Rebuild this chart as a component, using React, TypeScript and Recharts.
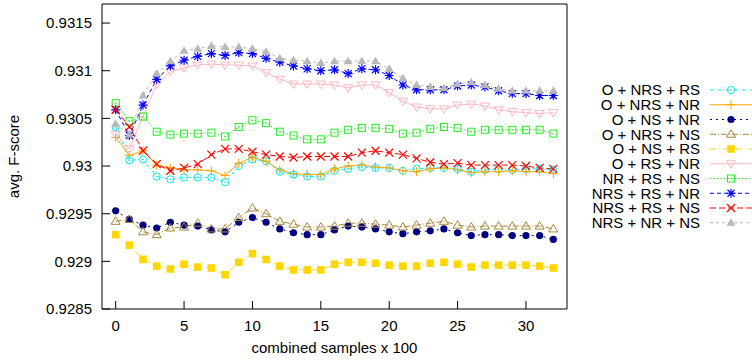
import { LineChart, Line, XAxis, YAxis } from "recharts"

// x positions (combined samples x 100)
const samples = [0, 1, 2, 3, 4, 5, 6, 7, 8, 9, 10, 11, 12, 13, 14, 15, 16, 17, 18, 19, 20, 21, 22, 23, 24, 25, 26, 27, 28, 29, 30, 31, 32]

const xTicks = [0, 5, 10, 15, 20, 25, 30]
const yTicks = [0.9285, 0.929, 0.9295, 0.93, 0.9305, 0.931, 0.9315]

// series values
const oNrsRs = [0.93041, 0.93006, 0.93007, 0.92989, 0.92986, 0.92988, 0.92988, 0.92988, 0.92983, 0.93, 0.93007, 0.93005, 0.92994, 0.92991, 0.92989, 0.92989, 0.92995, 0.92997, 0.92999, 0.92998, 0.92998, 0.92995, 0.92997, 0.92998, 0.92998, 0.92997, 0.92994, 0.92996, 0.92997, 0.92996, 0.92997, 0.92997, 0.92996]
const oNrsNr = [0.9303, 0.93011, 0.93016, 0.93001, 0.92998, 0.92996, 0.92996, 0.92995, 0.9299, 0.93003, 0.93009, 0.93005, 0.92996, 0.92992, 0.92991, 0.92991, 0.92997, 0.93, 0.93001, 0.92999, 0.92998, 0.92995, 0.92994, 0.92997, 0.92998, 0.92996, 0.92993, 0.92994, 0.92994, 0.92995, 0.92994, 0.92994, 0.92992]
const oNsNr = [0.92953, 0.92944, 0.92938, 0.92935, 0.92941, 0.92938, 0.92937, 0.92933, 0.92931, 0.92941, 0.92946, 0.92941, 0.92934, 0.9293, 0.92928, 0.92928, 0.92933, 0.92937, 0.92936, 0.92934, 0.92931, 0.92929, 0.92931, 0.92932, 0.92934, 0.9293, 0.92927, 0.92928, 0.92928, 0.92927, 0.92927, 0.92927, 0.92923]
const oNrsNs = [0.92942, 0.92944, 0.92931, 0.92928, 0.92935, 0.92936, 0.9294, 0.92934, 0.92934, 0.92946, 0.92956, 0.9295, 0.92942, 0.92939, 0.92936, 0.92936, 0.92937, 0.9294, 0.9294, 0.92939, 0.92938, 0.92936, 0.92938, 0.9294, 0.92942, 0.92938, 0.92936, 0.92937, 0.92937, 0.92937, 0.92937, 0.92937, 0.92934]
const oNsRs = [0.92928, 0.92917, 0.92902, 0.92895, 0.92892, 0.92897, 0.92894, 0.92893, 0.92886, 0.92899, 0.92908, 0.92902, 0.92895, 0.92891, 0.92891, 0.92891, 0.92897, 0.92899, 0.92899, 0.92898, 0.92896, 0.92895, 0.92895, 0.92898, 0.92899, 0.92897, 0.92894, 0.92896, 0.92896, 0.92896, 0.92896, 0.92895, 0.92893]
const oRsNr = [0.93033, 0.93018, 0.93052, 0.93086, 0.93099, 0.93103, 0.93106, 0.93107, 0.93106, 0.93106, 0.93105, 0.93098, 0.93091, 0.93086, 0.93086, 0.93086, 0.93085, 0.93082, 0.93085, 0.93085, 0.93077, 0.93068, 0.93062, 0.9306, 0.9306, 0.93064, 0.93065, 0.93063, 0.93059, 0.93057, 0.93056, 0.93055, 0.93056]
const nrRsNs = [0.93066, 0.93047, 0.93052, 0.93036, 0.93033, 0.93034, 0.93034, 0.93035, 0.93031, 0.93041, 0.93048, 0.93045, 0.93036, 0.93032, 0.93028, 0.93028, 0.93035, 0.93038, 0.9304, 0.9304, 0.93039, 0.93034, 0.93035, 0.93039, 0.93041, 0.9304, 0.93036, 0.93038, 0.93038, 0.93038, 0.93038, 0.93038, 0.93034]
const nrsRsNr = [0.93059, 0.93032, 0.93064, 0.93091, 0.93105, 0.93111, 0.93115, 0.93118, 0.93116, 0.93119, 0.93118, 0.93113, 0.93109, 0.93105, 0.93102, 0.931, 0.93101, 0.93097, 0.93102, 0.93101, 0.93095, 0.93085, 0.9308, 0.9308, 0.9308, 0.93084, 0.93085, 0.93083, 0.93079, 0.93076, 0.93076, 0.93074, 0.93074]
const nrsRsNs = [0.93059, 0.93041, 0.93016, 0.93002, 0.92995, 0.92998, 0.93002, 0.93012, 0.93018, 0.93018, 0.93015, 0.93012, 0.9301, 0.93009, 0.9301, 0.9301, 0.9301, 0.9301, 0.93014, 0.93016, 0.93014, 0.93012, 0.93008, 0.93004, 0.93002, 0.93003, 0.93001, 0.93001, 0.93001, 0.93001, 0.93, 0.92998, 0.92997]
const nrsNrNs = [0.93044, 0.93033, 0.93074, 0.93097, 0.9311, 0.93121, 0.93123, 0.93126, 0.93125, 0.93125, 0.93123, 0.9312, 0.93113, 0.93111, 0.9311, 0.93108, 0.9311, 0.9311, 0.9311, 0.9311, 0.93102, 0.93092, 0.93085, 0.93083, 0.93082, 0.93086, 0.93088, 0.93085, 0.93081, 0.93079, 0.93079, 0.93079, 0.93079]

const seriesNames = ["O + NRS + RS", "O + NRS + NR", "O + NS + NR", "O + NRS + NS", "O + NS + RS", "O + RS + NR", "NR + RS + NS", "NRS + RS + NR", "NRS + RS + NS", "NRS + NR + NS"]
const seriesValues = [oNrsRs, oNrsNr, oNsNr, oNrsNs, oNsRs, oRsNr, nrRsNs, nrsRsNr, nrsRsNs, nrsNrNs]

const styles = [
  { color: "#00eaf0", dash: "3 2 1 2", mark: "circleOpen" },
  { color: "#ffa500", dash: undefined, mark: "plus" },
  { color: "#000080", dash: "2 4", mark: "circle" },
  { color: "#a8883a", dash: "6 2 1 2", mark: "triOpen" },
  { color: "#ffd700", dash: "6 3 1 3", mark: "square" },
  { color: "#ffb6c1", dash: undefined, mark: "triDownOpen" },
  { color: "#22ee22", dash: "1.5 2", mark: "squareOpen" },
  { color: "#0000ff", dash: "4 3", mark: "star" },
  { color: "#ff0000", dash: "6 3", mark: "cross" },
  { color: "#b8b8b8", dash: "3 3", mark: "tri" },
]

const data = samples.map((x, i) => {
  const row: Record<string, number> = { x }
  seriesValues.forEach((vals, s) => {
    row[`s${s}`] = vals[i]
  })
  return row
})

function Marker({ kind, color, x, y }: { kind: string; color: string; x: number; y: number }) {
  const r = 3.6
  switch (kind) {
    case "circleOpen":
      return (
        <g>
          <circle cx={x} cy={y} r={r} fill="none" stroke={color} strokeWidth={1} />
          <circle cx={x} cy={y} r={0.7} fill={color} />
        </g>
      )
    case "circle":
      return <circle cx={x} cy={y} r={r} fill={color} />
    case "plus":
      return (
        <path d={`M${x - 4.5},${y}H${x + 4.5}M${x},${y - 4.5}V${y + 4.5}`} stroke={color} strokeWidth={1} />
      )
    case "cross":
      return (
        <path d={`M${x - 4},${y - 4}L${x + 4},${y + 4}M${x - 4},${y + 4}L${x + 4},${y - 4}`} stroke={color} strokeWidth={1.2} />
      )
    case "star":
      return (
        <path
          d={`M${x - 4.5},${y}H${x + 4.5}M${x},${y - 4.5}V${y + 4.5}M${x - 3.5},${y - 3.5}L${x + 3.5},${y + 3.5}M${x - 3.5},${y + 3.5}L${x + 3.5},${y - 3.5}`}
          stroke={color}
          strokeWidth={1.2}
        />
      )
    case "square":
      return <rect x={x - 3.8} y={y - 3.8} width={7.6} height={7.6} fill={color} />
    case "squareOpen":
      return (
        <g>
          <rect x={x - 3.5} y={y - 3.5} width={7} height={7} fill="none" stroke={color} strokeWidth={1} />
          <circle cx={x} cy={y} r={0.7} fill={color} />
        </g>
      )
    case "triOpen":
      return (
        <polygon points={`${x},${y - 4.5} ${x + 4.5},${y + 3} ${x - 4.5},${y + 3}`} fill="none" stroke={color} strokeWidth={1} />
      )
    case "tri":
      return <polygon points={`${x},${y - 4.5} ${x + 4.5},${y + 3} ${x - 4.5},${y + 3}`} fill={color} />
    case "triDownOpen":
      return (
        <polygon points={`${x},${y + 4.5} ${x + 4.5},${y - 3} ${x - 4.5},${y - 3}`} fill="none" stroke={color} strokeWidth={1} />
      )
    default:
      return null
  }
}

const font = '"Liberation Sans", Arial, Helvetica, sans-serif'

function KeyBox() {
  return (
    <svg width={192} height={155} style={{ position: "absolute", left: 560, top: 80, fontFamily: font }}>
      {seriesNames.map((name, i) => {
        const st = styles[i]
        const y = 10 + i * 14.75
        return (
          <g key={name}>
            <text x={140} y={y} dy="0.36em" textAnchor="end" fontSize={15} fill="#000">
              {name}
            </text>
            <line x1={150} x2={192} y1={y} y2={y} stroke={st.color} strokeWidth={1} strokeDasharray={st.dash} />
            <Marker kind={st.mark} color={st.color} x={171} y={y} />
          </g>
        )
      })}
    </svg>
  )
}

export default function App() {
  return (
    <div style={{ position: "absolute", left: 0, top: 0, width: 752, height: 360, background: "#fff", fontFamily: font }}>
      <LineChart width={752} height={360} data={data} margin={{ top: 3, right: 184, bottom: 0, left: 0 }}>
        <XAxis
          dataKey="x"
          type="number"
          domain={[-1, 33]}
          allowDataOverflow
          ticks={xTicks}
          height={51}
          tickSize={-8}
          tickMargin={19}
          stroke="#000"
          tick={{ fill: "#000", fontSize: 15 }}
          label={{ value: "combined samples x 100", position: "insideBottom", offset: 7.5, fill: "#000", fontSize: 15 }}
        />
        <XAxis
          xAxisId="top"
          orientation="top"
          dataKey="x"
          type="number"
          domain={[-1, 33]}
          allowDataOverflow
          ticks={xTicks}
          height={1}
          tickSize={-8}
          stroke="#000"
          tick={false}
        />
        <YAxis
          type="number"
          domain={[0.9285, 0.9317]}
          allowDataOverflow
          ticks={yTicks}
          width={102}
          tickSize={-8}
          tickMargin={18}
          stroke="#000"
          tick={{ fill: "#000", fontSize: 15 }}
          tickFormatter={(v: number) => String(Number(v.toFixed(4)))}
          label={{ value: "avg. F-score", angle: -90, position: "insideLeft", offset: 14, fill: "#000", fontSize: 15, style: { textAnchor: "middle" } }}
        />
        <YAxis
          yAxisId="right"
          orientation="right"
          type="number"
          domain={[0.9285, 0.9317]}
          allowDataOverflow
          ticks={yTicks}
          width={1}
          tickSize={-8}
          stroke="#000"
          tick={false}
        />
        {seriesNames.map((name, s) => {
          const st = styles[s]
          return (
            <Line
              key={name}
              name={name}
              dataKey={`s${s}`}
              type="linear"
              stroke={st.color}
              strokeWidth={1}
              strokeDasharray={st.dash}
              isAnimationActive={false}
              activeDot={false}
              dot={(p: any) => <Marker key={`${s}-${p.index}`} kind={st.mark} color={st.color} x={p.cx} y={p.cy} />}
            />
          )
        })}
      </LineChart>
      <KeyBox />
    </div>
  )
}
